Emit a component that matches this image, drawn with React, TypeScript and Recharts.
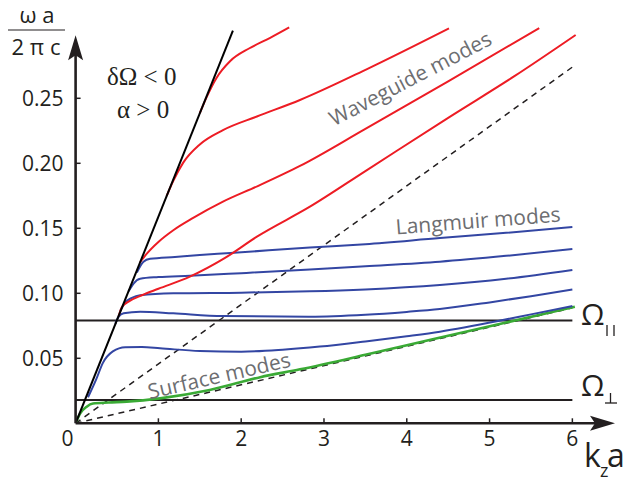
import React from 'react';
import { LineChart, Line, XAxis, YAxis, ReferenceLine, ReferenceDot } from 'recharts';

// k_z a  vs  omega a / 2 pi c
const xTicks = [0, 1, 2, 3, 4, 5, 6];
const yTicks = [0.05, 0.1, 0.15, 0.2, 0.25];

const lightLine = [[0, 0], [1.9, 0.302]];
const dashedUpper = [[0, 0], [6, 0.274]];
const dashedLower = [[0, 0], [6, 0.0888]];

const omegaPar = 0.079;
const omegaPerp = 0.018;

// waveguide modes (red)
const waveguide1 = [[1.5, 0.2385], [1.58, 0.2505], [1.7, 0.2655], [1.865, 0.2785], [2.1, 0.2885], [2.35, 0.2965], [2.58, 0.3045]];
const waveguide2 = [[1.1, 0.175], [1.18, 0.1865], [1.3, 0.2005], [1.5, 0.2145], [1.78, 0.2255], [2.19, 0.236], [2.71, 0.2487], [3.52, 0.2725], [4.51, 0.3038]];
const waveguide3 = [[0.78, 0.124], [0.86, 0.1305], [1.0, 0.1395], [1.18, 0.1485], [1.42, 0.158], [1.78, 0.1705], [2.2, 0.1825], [2.71, 0.198], [3.5, 0.2265], [4.5, 0.263], [5.6, 0.304]];
const waveguide4 = [[0.52, 0.0825], [0.56, 0.0895], [0.65, 0.094], [0.8, 0.0985], [1.0, 0.1035], [1.38, 0.1128], [1.8, 0.127], [2.19, 0.1436], [2.83, 0.1666], [3.5, 0.194], [4.5, 0.235], [5.3, 0.267], [6.04, 0.2987]];

// Langmuir modes (blue)
const langmuir1 = [[0.74, 0.116], [0.82, 0.1243], [0.9, 0.1265], [1.2, 0.128], [1.5, 0.1295], [1.87, 0.131], [2.83, 0.1352], [3.5, 0.1378], [4.4, 0.1425], [5.2, 0.1465], [6, 0.151]];
const langmuir2 = [[0.64, 0.1015], [0.7, 0.1075], [0.78, 0.1112], [1.0, 0.1125], [1.38, 0.1135], [2.0, 0.1155], [2.83, 0.1183], [3.5, 0.1208], [4.4, 0.1243], [5.2, 0.1288], [6, 0.134]];
const langmuir3 = [[0.54, 0.0865], [0.6, 0.093], [0.68, 0.0965], [0.78, 0.0985], [1.18, 0.1], [2.0, 0.1005], [2.83, 0.1015], [3.5, 0.103], [4.4, 0.1064], [5.2, 0.1112], [6, 0.118]];
const langmuir4 = [[0.48, 0.0765], [0.52, 0.082], [0.58, 0.0846], [0.78, 0.0859], [1.18, 0.0846], [1.78, 0.0825], [2.83, 0.082], [3.5, 0.0835], [4.0, 0.0857], [4.4, 0.0879], [5.0, 0.093], [5.5, 0.0978], [6, 0.103]];
const langmuir5 = [[0.15, 0.02], [0.25, 0.034], [0.33, 0.0465], [0.45, 0.0553], [0.6, 0.0585], [0.8, 0.0586], [1.02, 0.0577], [1.5, 0.0556], [2.0, 0.0551], [2.5, 0.0566], [2.95, 0.059], [3.5, 0.063], [4.0, 0.067], [4.4, 0.0705], [5.13, 0.079], [5.5, 0.0838], [6, 0.0902]];

// surface mode (green)
const surface = [[0, 0], [0.06, 0.008], [0.134, 0.0128], [0.21, 0.0152], [0.4, 0.016], [0.617, 0.0167], [1.02, 0.0192], [1.62, 0.0256], [2.23, 0.0355], [2.71, 0.0415], [3.5, 0.0527], [4.3, 0.0645], [5.2, 0.0775], [6.03, 0.0897]];

const pts = (a: number[][]) => a.map(([x, y]) => ({ x, y }));

const RED = '#ed1c24';
const BLUE = '#3346a3';
const GREEN = '#3aaa35';
const INK = '#231f20';
const GRAY = '#6d6e71';
const SANS = '"Open Sans", "DejaVu Sans", sans-serif';
const SERIF = '"Liberation Serif", "DejaVu Serif", serif';

const YTick = (props: any) => {
  const { x, y, payload } = props;
  return (
    <g>
      <line x1={x} x2={x + 5} y1={y} y2={y} stroke={INK} strokeWidth={1.5} />
      <text x={x - 12} y={y} dy="0.36em" textAnchor="end" fontSize={21} fontFamily={SANS} fill={INK}>
        {Number(payload.value).toFixed(2)}
      </text>
    </g>
  );
};

const XTick = (props: any) => {
  const { x, y, payload } = props;
  const v = payload.value;
  return (
    <g>
      {v !== 0 && <line x1={x} x2={x} y1={y} y2={y - 5} stroke={INK} strokeWidth={1.5} />}
      <text x={v === 0 ? x - 8 : x} y={y + 23} textAnchor="middle" fontSize={21} fontFamily={SANS} fill={INK}>
        {v}
      </text>
    </g>
  );
};

const ArrowUp = (props: any) => {
  const { cx, cy } = props;
  return <path d={`M${cx},${cy} L${cx + 7.5},${cy + 25} L${cx},${cy + 20} L${cx - 7.5},${cy + 25} Z`} fill={INK} />;
};

const ArrowRight = (props: any) => {
  const { cx, cy } = props;
  return <path d={`M${cx},${cy} L${cx - 25},${cy - 7.5} L${cx - 20},${cy} L${cx - 25},${cy + 7.5} Z`} fill={INK} />;
};

const curve = (key: string, d: number[][], color: string, width = 2) => (
  <Line
    key={key}
    data={pts(d)}
    dataKey="y"
    type="monotone"
    stroke={color}
    strokeWidth={width}
    dot={false}
    activeDot={false}
    isAnimationActive={false}
  />
);

export default function App() {
  return (
    <div style={{ position: 'absolute', left: 0, top: 0, width: 624, height: 485, background: '#fff' }}>
      <LineChart width={624} height={485} margin={{ top: 7.3, right: 6.1, bottom: 0, left: 0 }}>
        <XAxis
          type="number"
          dataKey="x"
          domain={[0, 6.55]}
          ticks={xTicks}
          height={61.7}
          axisLine={false}
          tickLine={false}
          tickSize={0}
          tickMargin={0}
          tick={<XTick />}
          interval={0}
          allowDataOverflow
        />
        <YAxis
          type="number"
          domain={[0, 0.32]}
          ticks={yTicks}
          width={75.6}
          axisLine={false}
          tickLine={false}
          tickSize={0}
          tickMargin={0}
          tick={<YTick />}
          interval={0}
          allowDataOverflow
        />
        <ReferenceLine segment={[{ x: 0, y: omegaPar }, { x: 6, y: omegaPar }]} stroke={INK} strokeWidth={2} />
        <ReferenceLine segment={[{ x: 0, y: omegaPerp }, { x: 6, y: omegaPerp }]} stroke={INK} strokeWidth={2} />
        <Line data={pts(dashedUpper)} dataKey="y" stroke={INK} strokeWidth={1.5} strokeDasharray="6 5" dot={false} activeDot={false} isAnimationActive={false} />
        <Line data={pts(dashedLower)} dataKey="y" stroke={INK} strokeWidth={1.5} strokeDasharray="6 5" dot={false} activeDot={false} isAnimationActive={false} />
        {curve('s', surface, GREEN, 2.6)}
        {curve('b1', langmuir1, BLUE)}
        {curve('b2', langmuir2, BLUE)}
        {curve('b3', langmuir3, BLUE)}
        {curve('b4', langmuir4, BLUE)}
        {curve('b5', langmuir5, BLUE)}
        {curve('r1', waveguide1, RED)}
        {curve('r2', waveguide2, RED)}
        {curve('r3', waveguide3, RED)}
        {curve('r4', waveguide4, RED)}
        <Line data={pts(lightLine)} dataKey="y" stroke="#000" strokeWidth={2} dot={false} activeDot={false} isAnimationActive={false} />
        <ReferenceLine segment={[{ x: 0, y: 0 }, { x: 0, y: 0.285 }]} stroke={INK} strokeWidth={2.6} />
        <ReferenceLine segment={[{ x: 0, y: 0 }, { x: 6.3, y: 0 }]} stroke={INK} strokeWidth={2.6} />
        <ReferenceDot x={0} y={0.2985} r={0} shape={<ArrowUp />} />
        <ReferenceDot x={6.515} y={0} r={0} shape={<ArrowRight />} />
      </LineChart>
      <svg width={624} height={485} style={{ position: 'absolute', left: 0, top: 0, pointerEvents: 'none' }}>
        <text x={37} y={23} textAnchor="middle" fontSize={22} fontFamily={SANS} fill={INK}>ω a</text>
        <line x1={8} x2={65} y1={30} y2={30} stroke={INK} strokeWidth={1.2} />
        <text x={36} y={55} textAnchor="middle" fontSize={22} fontFamily={SANS} fill={INK}>2 π c</text>
        <text x={107} y={85} fontSize={25} fontFamily={SERIF} fill={INK}>δΩ &lt; 0</text>
        <text x={117} y={118} fontSize={25} fontFamily={SERIF} fill={INK}>α &gt; 0</text>
        <text x={410} y={78} textAnchor="middle" dominantBaseline="central" fontSize={21} fontFamily={SANS} fill={GRAY} transform="rotate(-27.5 410 78)">Waveguide modes</text>
        <text x={478} y={220} textAnchor="middle" dominantBaseline="central" fontSize={21} fontFamily={SANS} fill={GRAY} transform="rotate(-4.5 478 220)">Langmuir modes</text>
        <text x={219} y={375} textAnchor="middle" dominantBaseline="central" fontSize={21} fontFamily={SANS} fill={GRAY} transform="rotate(-13 219 375)">Surface modes</text>
        <text x={581} y={325} fontSize={30} fontFamily={SANS} fill={INK}>Ω</text>
        <line x1={607} x2={607} y1={325} y2={336} stroke={INK} strokeWidth={1.3} />
        <line x1={614} x2={614} y1={325} y2={336} stroke={INK} strokeWidth={1.3} />
        <text x={581} y={396} fontSize={30} fontFamily={SANS} fill={INK}>Ω</text>
        <line x1={610.5} x2={610.5} y1={393} y2={403} stroke={INK} strokeWidth={1.3} />
        <line x1={605} x2={617} y1={403} y2={403} stroke={INK} strokeWidth={1.3} />
        <text x={584} y={467} fontSize={32} fontFamily={SANS} fill={INK}>k</text>
        <text x={600} y={477} fontSize={18} fontFamily={SANS} fill={INK}>z</text>
        <text x={607} y={467} fontSize={32} fontFamily={SANS} fill={INK}>a</text>
      </svg>
    </div>
  );
}
